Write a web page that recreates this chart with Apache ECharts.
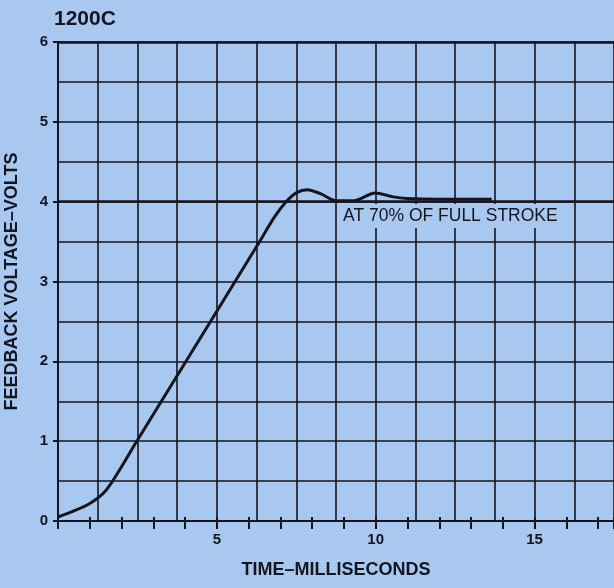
<!DOCTYPE html>
<html>
<head>
<meta charset="utf-8">
<script src="https://cdn.jsdelivr.net/npm/echarts@6/dist/echarts.min.js"></script>
<style>html,body{margin:0;padding:0;background:#a8c8f0;}#c{width:614px;height:588px;}</style>
</head>
<body>
<div id="c"></div>
<script>
// Data
var timeMs = [0, 0.4, 1.0, 1.5, 2.0, 2.45, 6.27, 6.8, 7.16, 7.5, 7.84, 8.26, 8.78, 9.3, 9.98, 10.55, 10.98, 12.0, 13.65];
var volts  = [0.05, 0.11, 0.22, 0.38, 0.68, 0.98, 3.45, 3.8, 3.99, 4.11, 4.15, 4.10, 4.01, 4.01, 4.11, 4.06, 4.04, 4.03, 4.03];
var xTickLabels = [5, 10, 15];
var yTickLabels = [0, 1, 2, 3, 4, 5, 6];
var referenceLevel = 4;
var annotationText = 'AT 70% OF FULL STROKE';
var annotationAt = [12.35, 3.82];
var titleText = '1200C';
var xName = 'TIME\u2013MILLISECONDS';
var yName = 'FEEDBACK VOLTAGE\u2013VOLTS';

var bg = '#a8c8f0';
var ink = '#15151f';
var font = '"Liberation Sans", Arial, sans-serif';

var chart = echarts.init(document.getElementById('c'), null, {renderer: 'canvas'});
var pts = timeMs.map(function (t, i) { return [t, volts[i]]; });

chart.setOption({
  backgroundColor: bg,
  animation: false,
  title: {
    text: titleText, left: 49, top: 4,
    textStyle: {fontFamily: font, fontWeight: 'bold', fontSize: 21, color: ink}
  },
  grid: {left: 58, right: 0, top: 42, bottom: 67, containLabel: false, outerBoundsMode: 'none'},
  xAxis: [
    {
      type: 'value', min: 0, max: 17.5, interval: 1,
      name: xName, nameLocation: 'middle', nameGap: 40,
      nameTextStyle: {fontFamily: font, fontWeight: 'bold', fontSize: 18, color: ink},
      axisLine: {show: true, lineStyle: {color: ink, width: 2}},
      axisTick: {show: true, inside: false, length: 8, lineStyle: {color: ink, width: 2}},
      axisLabel: {
        show: true, margin: 11, color: ink, fontFamily: font, fontWeight: 'bold', fontSize: 15,
        formatter: function (v) { return xTickLabels.indexOf(v) >= 0 ? String(v) : ''; }
      },
      splitLine: {show: false}
    },
    {
      type: 'value', min: 0, max: 17.5, interval: 1.25, position: 'bottom',
      axisLine: {show: false}, axisTick: {show: false}, axisLabel: {show: false},
      splitLine: {show: true, lineStyle: {color: ink, width: 1.6}}
    },
    {
      type: 'value', min: 0, max: 17.5, interval: 1, position: 'bottom',
      axisLine: {show: false},
      axisTick: {show: true, inside: true, length: 4, lineStyle: {color: ink, width: 2}},
      axisLabel: {show: false}, splitLine: {show: false}
    }
  ],
  yAxis: [
    {
      type: 'value', min: 0, max: 6, interval: 1,
      name: yName, nameLocation: 'middle', nameGap: 37, nameRotate: 90,
      nameTextStyle: {fontFamily: font, fontWeight: 'bold', fontSize: 18, color: ink},
      axisLine: {show: true, lineStyle: {color: ink, width: 2}},
      axisTick: {show: true, inside: false, length: 5, lineStyle: {color: ink, width: 2}},
      axisLabel: {
        show: true, margin: 10, color: ink, fontFamily: font, fontWeight: 'bold', fontSize: 15,
        formatter: function (v) { return yTickLabels.indexOf(v) >= 0 ? String(v) : ''; }
      },
      splitLine: {show: false}
    },
    {
      type: 'value', min: 0, max: 6, interval: 0.5, position: 'left',
      axisLine: {show: false}, axisTick: {show: false}, axisLabel: {show: false},
      splitLine: {show: true, lineStyle: {color: ink, width: 1.6}}
    }
  ],
  series: [
    {
      type: 'line', xAxisIndex: 0, yAxisIndex: 0,
      data: pts, smooth: 0.3, symbol: 'none',
      lineStyle: {color: ink, width: 3},
      markLine: {
        silent: true, symbol: ['none', 'none'],
        label: {show: false},
        lineStyle: {color: ink, width: 2.6, type: 'solid'},
        data: [{yAxis: referenceLevel}, {yAxis: 6}]
      },
      markPoint: {
        silent: true, symbol: 'circle', symbolSize: 0,
        data: [{coord: annotationAt, value: annotationText}],
        label: {
          show: true, position: 'inside', formatter: annotationText,
          fontFamily: font, fontSize: 17.5, color: ink,
          backgroundColor: bg, padding: [3, 3]
        }
      }
    }
  ]
});
</script>
</body>
</html>
